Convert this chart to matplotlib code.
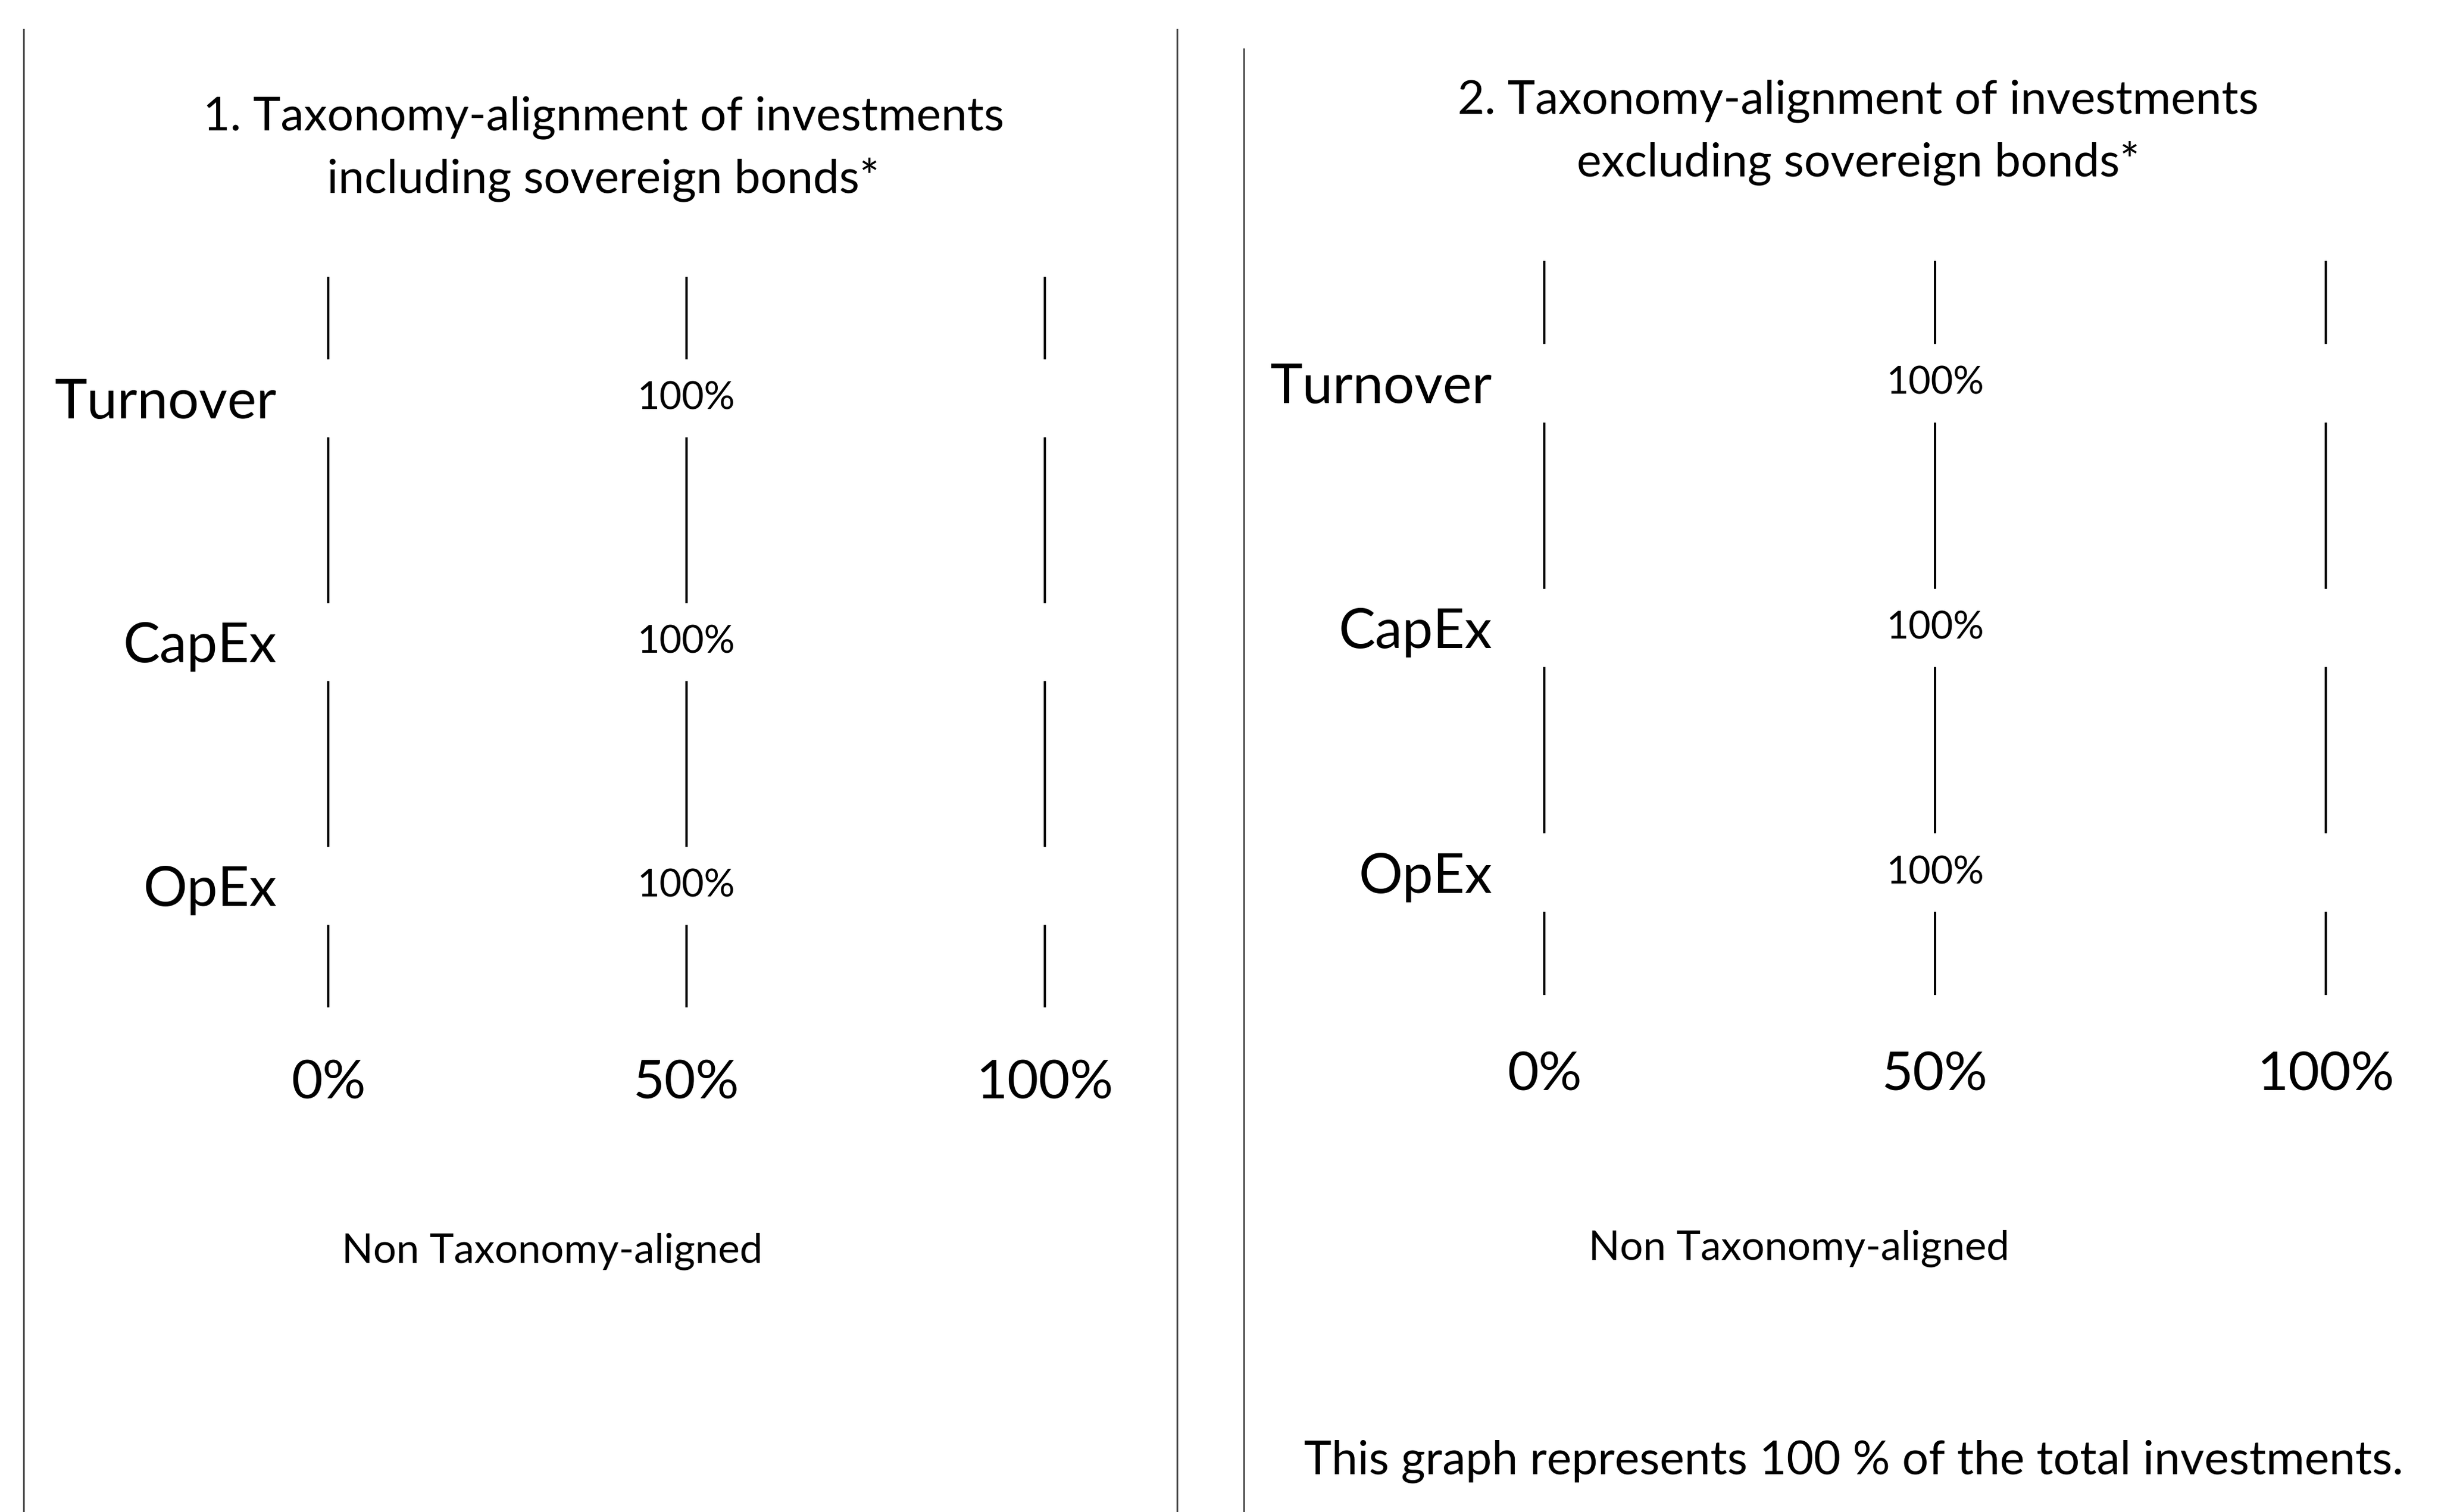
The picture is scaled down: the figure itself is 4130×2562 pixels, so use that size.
import numpy as np
import matplotlib
matplotlib.use('Agg')
import matplotlib.pyplot as plt
from matplotlib.lines import Line2D
from matplotlib.patches import Patch

plt.rcParams['font.family'] = ['Lato', 'DejaVu Sans']

# data
categories = ['Turnover', 'CapEx', 'OpEx']
values_incl = [100, 100, 100]
values_excl = [100, 100, 100]
bar_labels = ['100%', '100%', '100%']
xticks = [0, 50, 100]
xtick_labels = ['0%', '50%', '100%']
titles = ['1. Taxonomy-alignment of investments\nincluding sovereign bonds*',
          '2. Taxonomy-alignment of investments\nexcluding sovereign bonds*']
legend_label = 'Non Taxonomy-aligned'
footnote = 'This graph represents 100 % of the total investments.'

fig = plt.figure(figsize=(41.3, 25.62), dpi=100)
fig.patch.set_facecolor('white')

def draw_panel(rect, values, xpad):
    ax = fig.add_axes(rect)
    y = np.arange(len(categories))
    bars = ax.barh(y, values, height=0.3, color='white', edgecolor='white',
                   linewidth=6, zorder=3)
    ax.bar_label(bars, labels=bar_labels, label_type='center', fontsize=47, zorder=4)
    ax.set_yticks(y)
    ax.set_yticklabels(categories, fontsize=67)
    ax.set_ylim(len(categories) - 0.5, -0.5)
    ax.set_xlim(-1, 101)
    ax.set_xticks(xticks)
    ax.set_xticklabels(xtick_labels, fontsize=66)
    ax.tick_params(axis='both', length=0)
    ax.tick_params(axis='y', pad=54)
    ax.tick_params(axis='x', pad=xpad)
    ax.set_axisbelow(True)
    ax.grid(axis='x', color='black', linewidth=2.8)
    for s in ax.spines.values():
        s.set_visible(False)
    return ax, bars

ax1, bars1 = draw_panel([0.1317, 0.3337, 0.2998, 0.4833], values_incl, 63)
ax2, bars2 = draw_panel([0.6303, 0.3419, 0.3269, 0.4856], values_excl, 68)

fig.text(0.2475, 0.9015, titles[0], ha='center', va='center', fontsize=57, linespacing=1.5)
fig.text(0.7622, 0.9125, titles[1], ha='center', va='center', fontsize=57, linespacing=1.5)

# legends (white patch, invisible like the bars)
h = Patch(facecolor='white', edgecolor='white')
fig.legend([h], [legend_label], loc='center left', bbox_to_anchor=(0.078, 0.1725),
           frameon=False, fontsize=50)
fig.legend([h], [legend_label], loc='center left', bbox_to_anchor=(0.5893, 0.1745),
           frameon=False, fontsize=50)

fig.text(0.7603, 0.0336, footnote, ha='center', va='center', fontsize=57)

# panel borders
for x, y0 in [(40, 50), (1994, 50), (2107, 83)]:
    fig.add_artist(Line2D([x / 4130, x / 4130], [0, 1 - y0 / 2562],
                          transform=fig.transFigure, color='#444444', linewidth=2))

fig.savefig('out.png', dpi=100)
